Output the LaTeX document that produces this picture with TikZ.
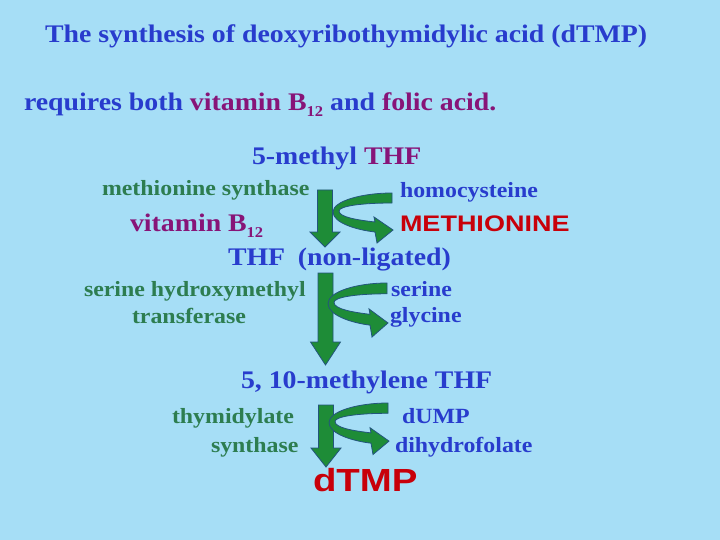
\documentclass[tikz,border=0pt]{standalone}
\usepackage{fontspec}
\setmainfont{Liberation Serif}[FakeStretch=1.1]
\newfontfamily\sansfnt{Liberation Sans}[FakeStretch=1.2]
\definecolor{bgc}{RGB}{166,222,246}
\definecolor{tblue}{RGB}{40,60,205}
\definecolor{tpurple}{RGB}{135,20,120}
\definecolor{tgreen}{RGB}{45,125,80}
\definecolor{tred}{RGB}{200,0,10}
\definecolor{afill}{RGB}{30,140,55}
\definecolor{aline}{RGB}{35,85,125}
\newcommand\subtw[1]{\raisebox{-0.22em}{\fontsize{15}{15}\selectfont #1}}
\newcommand\mycurvearrow[3]{%
  \begin{scope}[shift={(#1,#2)}, yscale=#3]
    \filldraw[arrowbody] (0,0) .. controls (-30,0) and (-59,8) .. (-59,19)
      .. controls (-59,30) and (-35,37) .. (-17,39)
      -- (-15,50) -- (1,37) -- (-18,24) -- (-17,29)
      .. controls (-35,27) and (-53,24) .. (-53,18)
      .. controls (-53,13) and (-30,10) .. (0,10) -- cycle;
  \end{scope}}
\newcommand\mydownarrow[4]{%
  \filldraw[arrowbody] (#1-7.5,#2) -- (#1+7.5,#2) -- (#1+7.5,#3) -- (#1+15,#3)
    -- (#1,#4) -- (#1-15,#3) -- (#1-7.5,#3) -- cycle;}
\tikzset{
  arrowbody/.style={fill=afill, draw=aline, line width=0.8pt, line join=miter},
  txt/.style={anchor=base west, inner sep=0pt, outer sep=0pt},
  big/.style={txt, font=\bfseries\fontsize{25.3}{30}\selectfont},
  small/.style={txt, font=\bfseries\fontsize{21.7}{26}\selectfont},
  sansbig/.style={txt, font=\sansfnt\bfseries\fontsize{22.5}{27}\selectfont, text=tred},
  sanshuge/.style={txt, font=\sansfnt\bfseries\fontsize{32}{38}\selectfont, text=tred},
}
\begin{document}
\begin{tikzpicture}[x=1pt,y=-1pt]
\fill[bgc] (0,0) rectangle (720,540);
\useasboundingbox (0,0) rectangle (720,540);
% heading
\node[big, text=tblue] (title) at (45,43) {The synthesis of deoxyribothymidylic acid (dTMP)};
\node[big, text=tblue] (req) at (24,111) {requires both \textcolor{tpurple}{vitamin B\subtw{12}} and \textcolor{tpurple}{folic acid.}};
% step 1
\node[big, text=tblue] (mthf) at (252,165) {5-methyl \textcolor{tpurple}{THF}};
\node[small, text=tgreen] (ms) at (102,196) {methionine synthase};
\node[small, text=tblue] (hcy) at (400,197) {homocysteine};
\node[big, text=tpurple] (b12) at (130,232) {vitamin B\subtw{12}};
\node[sansbig] (met) at (400,231) {METHIONINE};
\node[big, text=tblue] (thf) at (228,265) {THF\hspace{0.5em}(non-ligated)};
% step 2
\node[small, text=tgreen] (shm) at (84,296) {serine hydroxymethyl};
\node[small, text=tgreen] (tr) at (132,323) {transferase};
\node[small, text=tblue] (ser) at (391,296) {serine};
\node[small, text=tblue] (gly) at (390,322) {glycine};
% step 3
\node[big, text=tblue] (mlthf) at (241,388) {5, 10-methylene THF};
\node[small, text=tgreen] (ts1) at (172,423) {thymidylate};
\node[small, text=tgreen] (ts2) at (211,452) {synthase};
\node[small, text=tblue] (dump) at (402,423) {dUMP};
\node[small, text=tblue] (dhf) at (395,452) {dihydrofolate};
\node[sanshuge] (dtmp) at (313,491) {dTMP};
% arrows
\mydownarrow{325}{190}{232}{247}
\mycurvearrow{392}{193}{1}
\mydownarrow{325.5}{273}{342}{365}
\mycurvearrow{387}{283}{1.08}
\mydownarrow{326}{405}{448}{467}
\mycurvearrow{388}{403}{1.03}
\end{tikzpicture}
\end{document}
